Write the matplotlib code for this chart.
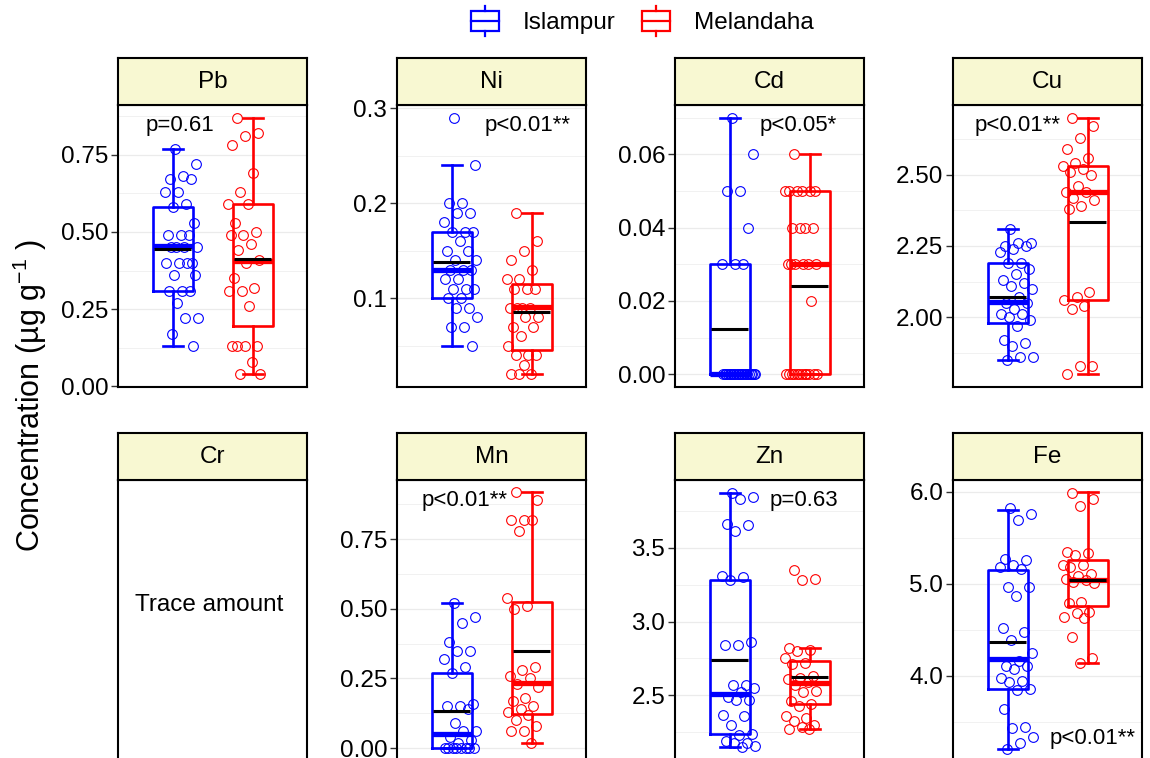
import numpy as np
import matplotlib
matplotlib.use('Agg')
import matplotlib.pyplot as plt
from matplotlib.patches import Patch, Rectangle
from matplotlib.lines import Line2D
from matplotlib.legend_handler import HandlerBase
from matplotlib.ticker import MultipleLocator, FormatStrFormatter

plt.rcParams['font.family'] = ['Liberation Sans', 'DejaVu Sans']
plt.rcParams['mathtext.fontset'] = 'custom'
plt.rcParams['mathtext.rm'] = 'Liberation Sans'
plt.rcParams['mathtext.it'] = 'Liberation Sans:italic'

# ---- data ----
sites = ['Islampur', 'Melandaha']
elements = ['Pb', 'Ni', 'Cd', 'Cu', 'Mn', 'Zn', 'Fe']
p_labels = ['p=0.61', 'p<0.01**', 'p<0.05*', 'p<0.01**', 'p<0.01**', 'p=0.63', 'p<0.01**']

pb_isl = [0.77, 0.72, 0.68, 0.67, 0.67, 0.63, 0.63, 0.59, 0.58, 0.53, 0.49, 0.49, 0.49, 0.45, 0.45, 0.45,
          0.45, 0.40, 0.40, 0.40, 0.40, 0.36, 0.36, 0.31, 0.31, 0.31, 0.27, 0.22, 0.22, 0.17, 0.13]
pb_mel = [0.87, 0.82, 0.81, 0.78, 0.69, 0.63, 0.59, 0.59, 0.53, 0.50, 0.49, 0.49, 0.46, 0.44, 0.41, 0.40,
          0.35, 0.32, 0.31, 0.31, 0.26, 0.13, 0.13, 0.13, 0.13, 0.08, 0.04, 0.04]
ni_isl = [0.29, 0.24, 0.20, 0.20, 0.19, 0.19, 0.18, 0.17, 0.17, 0.17, 0.16, 0.15, 0.15, 0.14, 0.14, 0.13,
          0.13, 0.13, 0.12, 0.12, 0.11, 0.11, 0.11, 0.10, 0.10, 0.09, 0.09, 0.08, 0.07, 0.07, 0.05]
ni_mel = [0.19, 0.16, 0.15, 0.14, 0.13, 0.12, 0.12, 0.11, 0.11, 0.11, 0.09, 0.09, 0.09, 0.09, 0.08, 0.08,
          0.07, 0.07, 0.06, 0.05, 0.04, 0.04, 0.04, 0.03, 0.02, 0.02, 0.02]
cd_isl = [0.07, 0.06, 0.05, 0.05, 0.04, 0.03, 0.03, 0.03, 0.0, 0.0, 0.0, 0.0, 0.0, 0.0, 0.0, 0.0, 0.0,
          0.0, 0.0, 0.0, 0.0, 0.0, 0.0, 0.0, 0.0, 0.0, 0.0, 0.0, 0.0]
cd_mel = [0.06, 0.05, 0.05, 0.05, 0.05, 0.05, 0.05, 0.04, 0.04, 0.04, 0.04, 0.03, 0.03, 0.03, 0.03, 0.03,
          0.03, 0.02, 0.0, 0.0, 0.0, 0.0, 0.0, 0.0, 0.0, 0.0, 0.0, 0.0, 0.0, 0.0]
cu_isl = [2.31, 2.26, 2.26, 2.25, 2.25, 2.24, 2.23, 2.19, 2.19, 2.17, 2.15, 2.13, 2.12, 2.11, 2.10, 2.07,
          2.05, 2.05, 2.03, 2.01, 2.01, 2.00, 1.99, 1.97, 1.92, 1.91, 1.90, 1.86, 1.86, 1.85]
cu_mel = [2.70, 2.67, 2.63, 2.59, 2.56, 2.54, 2.53, 2.52, 2.51, 2.50, 2.46, 2.44, 2.44, 2.42, 2.41, 2.39,
          2.38, 2.09, 2.07, 2.06, 2.04, 2.03, 1.83, 1.83, 1.80]
mn_isl = [0.52, 0.47, 0.45, 0.38, 0.35, 0.35, 0.32, 0.29, 0.27, 0.16, 0.15, 0.15, 0.14, 0.09, 0.06, 0.06,
          0.04, 0.03, 0.02, 0.0, 0.0, 0.0, 0.0, 0.0, 0.0, 0.0, 0.0]
mn_mel = [0.92, 0.89, 0.82, 0.82, 0.82, 0.78, 0.54, 0.51, 0.50, 0.29, 0.28, 0.26, 0.25, 0.23, 0.22, 0.18,
          0.17, 0.15, 0.14, 0.13, 0.12, 0.10, 0.08, 0.06, 0.06, 0.02]
zn_isl = [3.87, 3.84, 3.83, 3.66, 3.65, 3.61, 3.31, 3.30, 3.28, 2.86, 2.84, 2.84, 2.57, 2.57, 2.55, 2.52,
          2.49, 2.47, 2.47, 2.37, 2.36, 2.30, 2.24, 2.23, 2.19, 2.18, 2.18, 2.16, 2.15]
zn_mel = [3.35, 3.29, 3.28, 2.82, 2.81, 2.80, 2.75, 2.72, 2.71, 2.63, 2.62, 2.61, 2.59, 2.57, 2.53, 2.52,
          2.46, 2.44, 2.43, 2.36, 2.35, 2.33, 2.30, 2.29, 2.27, 2.27]
fe_isl = [5.82, 5.76, 5.69, 5.27, 5.26, 5.20, 5.18, 5.16, 4.96, 4.96, 4.87, 4.52, 4.48, 4.39, 4.25, 4.16,
          4.11, 4.11, 4.07, 3.97, 3.94, 3.93, 3.85, 3.84, 3.64, 3.44, 3.43, 3.33, 3.27, 3.20]
fe_mel = [5.99, 5.92, 5.85, 5.35, 5.33, 5.31, 5.21, 5.20, 5.18, 5.11, 5.09, 5.05, 5.04, 5.02, 5.01, 4.80,
          4.79, 4.69, 4.68, 4.64, 4.63, 4.42, 4.19, 4.14]

# box statistics (Pb, Ni, Cd, Cu, Mn, Zn, Fe)
isl_q1 = [0.31, 0.10, 0.0, 1.98, 0.0, 2.24, 3.85]
isl_med = [0.455, 0.13, 0.0, 2.052, 0.05, 2.51, 4.18]
isl_q3 = [0.58, 0.17, 0.03, 2.19, 0.27, 3.28, 5.15]
isl_lo = [0.13, 0.05, 0.0, 1.85, 0.0, 2.15, 3.20]
isl_hi = [0.77, 0.24, 0.07, 2.31, 0.52, 3.87, 5.80]
isl_mean = [0.444, 0.138, 0.0124, 2.07, 0.132, 2.74, 4.37]
mel_q1 = [0.195, 0.045, 0.0, 2.06, 0.124, 2.44, 4.76]
mel_med = [0.405, 0.091, 0.03, 2.44, 0.232, 2.585, 5.045]
mel_q3 = [0.59, 0.115, 0.05, 2.53, 0.523, 2.73, 5.255]
mel_lo = [0.04, 0.02, 0.0, 1.80, 0.02, 2.27, 4.14]
mel_hi = [0.87, 0.19, 0.06, 2.70, 0.92, 2.82, 6.00]
mel_mean = [0.413, 0.085, 0.024, 2.333, 0.35, 2.626, 5.04]

points = {'Pb': (pb_isl, pb_mel), 'Ni': (ni_isl, ni_mel), 'Cd': (cd_isl, cd_mel), 'Cu': (cu_isl, cu_mel),
          'Mn': (mn_isl, mn_mel), 'Zn': (zn_isl, zn_mel), 'Fe': (fe_isl, fe_mel)}

# ---- layout (pixels) ----
W, H = 1150, 758
col_left = [118, 397, 675, 953]
panel_w, panel_h, strip_h = 189, 282, 47
row_top = [105, 480]
panel_slot = {'Pb': (0, 0), 'Ni': (0, 1), 'Cd': (0, 2), 'Cu': (0, 3),
              'Cr': (1, 0), 'Mn': (1, 1), 'Zn': (1, 2), 'Fe': (1, 3)}
ylims = {'Pb': (-0.002, 0.911), 'Ni': (0.0065, 0.3035), 'Cd': (-0.0035, 0.0735), 'Cu': (1.755, 2.745),
         'Mn': (-0.05, 0.963), 'Zn': (2.05, 3.957), 'Fe': (3.06, 6.13)}
yticks = {'Pb': ([0, 0.25, 0.5, 0.75], '%.2f'), 'Ni': ([0.1, 0.2, 0.3], '%.1f'),
          'Cd': ([0, 0.02, 0.04, 0.06], '%.2f'), 'Cu': ([2.0, 2.25, 2.5], '%.2f'),
          'Mn': ([0, 0.25, 0.5, 0.75], '%.2f'), 'Zn': ([2.5, 3.0, 3.5], '%.1f'),
          'Fe': ([4.0, 5.0, 6.0], '%.1f')}
p_pos = {'Pb': (0.33, 0.926), 'Ni': (0.69, 0.926), 'Cd': (0.65, 0.926), 'Cu': (0.34, 0.926),
         'Mn': (0.36, 0.929), 'Zn': (0.68, 0.929), 'Fe': (0.74, 0.085)}
colors = ['#0000FF', '#FF0000']
strip_fc = '#F8F8D2'
grid_c = '#EBEBEB'
fs = 17.5


def frac(left, top, w, h):
    return [left / W, 1 - (top + h) / H, w / W, h / H]


fig = plt.figure(figsize=(W / 100, H / 100), dpi=100)


def add_panel(name):
    r, c = panel_slot[name]
    ax = fig.add_axes(frac(col_left[c], row_top[r], panel_w, panel_h))
    sax = fig.add_axes(frac(col_left[c], row_top[r] - strip_h, panel_w, strip_h))
    sax.set_facecolor(strip_fc)
    sax.set_xticks([])
    sax.set_yticks([])
    for s in sax.spines.values():
        s.set_linewidth(1.5)
    sax.text(0.5, 0.5, name, ha='center', va='center', fontsize=fs, transform=sax.transAxes)
    for s in ax.spines.values():
        s.set_linewidth(1.5)
    ax.set_xlim(0.31875, 2.68125)
    ax.set_xticks([])
    return ax


for i, el in enumerate(elements):
    ax = add_panel(el)
    ax.set_ylim(*ylims[el])
    ticks, fmt = yticks[el]
    ax.set_yticks(ticks)
    ax.yaxis.set_major_formatter(FormatStrFormatter(fmt))
    ax.yaxis.set_minor_locator(MultipleLocator((ticks[1] - ticks[0]) / 2))
    ax.tick_params(axis='y', which='major', labelsize=fs, length=5, width=1, color='#333333', pad=2)
    ax.tick_params(axis='y', which='minor', length=0)
    ax.grid(True, axis='y', which='major', color=grid_c, lw=0.9, zorder=0)
    ax.grid(True, axis='y', which='minor', color=grid_c, lw=0.5, zorder=0)
    ax.set_axisbelow(True)

    stats = [dict(q1=isl_q1[i], med=isl_med[i], q3=isl_q3[i], whislo=isl_lo[i], whishi=isl_hi[i], fliers=[]),
             dict(q1=mel_q1[i], med=mel_med[i], q3=mel_q3[i], whislo=mel_lo[i], whishi=mel_hi[i], fliers=[])]
    means = [isl_mean[i], mel_mean[i]]
    for k in range(2):
        col = colors[k]
        ax.bxp([stats[k]], positions=[k + 1], widths=0.5, capwidths=0.25, showfliers=False,
               manage_ticks=False,
               boxprops=dict(color=col, lw=1.9), whiskerprops=dict(color=col, lw=1.9),
               capprops=dict(color=col, lw=1.9), medianprops=dict(color=col, lw=3.8))
        vals = np.array(points[el][k])
        idx = np.arange(len(vals))
        jit = ((idx * 0.618034 + 0.31) % 1.0 - 0.5) * 0.42
        shift = 0.11 if k == 0 else -0.11
        ax.plot(k + 1 + shift + jit, vals, 'o', ms=7, mfc='none', mec=col, mew=0.8, zorder=4)
        ax.hlines(means[k], k + 1 - 0.23, k + 1 + 0.23, colors='black', lw=2.2, zorder=5)
    ax.set_xlim(0.31875, 2.68125)
    ax.set_xticks([])
    px, py = p_pos[el]
    ax.text(px, py, p_labels[i], transform=ax.transAxes, ha='center', va='center', fontsize=16, zorder=6)

# Cr panel: only trace amounts
ax = add_panel('Cr')
ax.set_yticks([])
ax.text(0.48, 0.557, 'Trace amount', transform=ax.transAxes, ha='center', va='center', fontsize=fs)

fig.text(30 / W, 1 - 396 / H, r'Concentration (µg g$^{-1}$ )', rotation=90, ha='center',
         va='center', fontsize=22)


class BoxHandler(HandlerBase):
    def create_artists(self, legend, orig_handle, xdescent, ydescent, width, height, fontsize, trans):
        c = orig_handle.get_edgecolor()
        cx = -xdescent + width / 2
        cy = -ydescent + height / 2
        bw, bh = width * 0.95, height * 1.05
        rect = Rectangle((cx - bw / 2, cy - bh / 2), bw, bh, fc='none', ec=c, lw=1.6, transform=trans)
        med = Line2D([cx - bw / 2, cx + bw / 2], [cy, cy], color=c, lw=1.6, transform=trans)
        top = Line2D([cx, cx], [cy + bh / 2, cy + bh / 2 + height * 0.3], color=c, lw=1.6, transform=trans)
        bot = Line2D([cx, cx], [cy - bh / 2, cy - bh / 2 - height * 0.3], color=c, lw=1.6, transform=trans)
        return [rect, med, top, bot]


handles = [Patch(facecolor='none', edgecolor=c) for c in colors]
fig.legend(handles, sites, handler_map={Patch: BoxHandler()}, loc='center', ncol=2,
           bbox_to_anchor=(642 / W, 1 - 23 / H), frameon=False, fontsize=17.5,
           handlelength=1.2, handleheight=0.8, handletextpad=0.95, columnspacing=1.05)

fig.savefig('out.png', dpi=100)
